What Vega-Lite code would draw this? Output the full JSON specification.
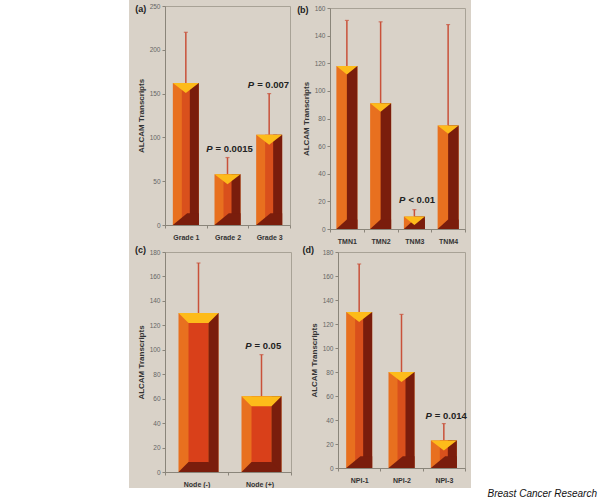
{"$schema":"https://vega.github.io/schema/vega-lite/v6.json","background":"#d9d2c8","padding":0,"spacing":0,"bounds":"full","config":{"view":{"stroke":"#a8a296","strokeWidth":1},"concat":{"spacing":0},"axis":{"labelFont":"Liberation Sans","titleFont":"Liberation Sans","domainColor":"#8a857a","tickColor":"#8a857a","tickSize":3,"grid":false}},"datasets":{"a":[{"label":"Grade 1","value":162,"upper":220},{"label":"Grade 2","value":58,"upper":77,"p":"P","rest":"= 0.0015"},{"label":"Grade 3","value":103,"upper":150,"p":"P","rest":"= 0.007"}],"b":[{"label":"TMN1","value":118,"upper":151},{"label":"TMN2","value":91,"upper":150},{"label":"TNM3","value":9,"upper":14,"p":"P","rest":"< 0.01"},{"label":"TNM4","value":75,"upper":148}],"c":[{"label":"Node (-)","value":130,"upper":171},{"label":"Node (+)","value":62,"upper":96,"p":"P","rest":"= 0.05"}],"d":[{"label":"NPI-1","value":130,"upper":170},{"label":"NPI-2","value":80,"upper":128},{"label":"NPI-3","value":23,"upper":37,"p":"P","rest":"= 0.014"}],"blank":[{"t":""}]},"hconcat":[{"width":129,"height":499,"view":{"fill":"#ffffff","stroke":null},"data":{"name":"blank"},"mark":{"type":"rect","opacity":0},"encoding":{}},{"spacing":0,"vconcat":[{"spacing":3,"hconcat":[{"spacing":0,"vconcat":[{"width":1,"height":2,"view":{"stroke":null},"data":{"name":"blank"},"mark":{"type":"rect","opacity":0},"encoding":{}},{"spacing":4,"vconcat":[{"width":125,"height":219,"data":{"name":"a"},"encoding":{"x":{"field":"label","type":"nominal","sort":null,"title":null,"scale":{"paddingInner":0,"paddingOuter":0},"axis":{"labelAngle":0,"labelFontSize":7,"labelFontWeight":"bold","labelColor":"#333333","tickBand":"extent","labelPadding":5}},"y":{"field":"value","type":"quantitative","scale":{"domain":[0,250],"nice":false},"axis":{"values":[0,50,100,150,200,250],"labelFontSize":6.5,"labelColor":"#666666","title":"ALCAM Transcripts","titleFontSize":8,"titleFontWeight":"bold","titleColor":"#333333","titlePadding":4}}},"layer":[{"mark":{"type":"rule","color":"#c9513a","strokeWidth":1.5},"encoding":{"y":{"field":"value","type":"quantitative"},"y2":{"field":"upper"}}},{"mark":{"type":"tick","orient":"horizontal","color":"#c9513a","size":4,"thickness":1.2},"encoding":{"y":{"field":"upper","type":"quantitative"}}},{"mark":{"type":"bar","size":26,"color":"#e8701f"}},{"mark":{"type":"bar","size":12,"color":"#d9501c","xOffset":2}},{"mark":{"type":"bar","size":9,"color":"#7a1d0c","xOffset":8.5}},{"mark":{"type":"point","filled":true,"opacity":1,"color":"#7a1d0c","size":676,"shape":"M-1,0L1,0L1,-0.9L0.1,-0.9Z"},"encoding":{"y":{"datum":0}}},{"mark":{"type":"point","filled":true,"opacity":1,"color":"#fdbb1a","size":676,"shape":"M-1,0L1,0L0,0.77Z"}},{"transform":[{"filter":"datum.p"}],"mark":{"type":"text","font":"Liberation Sans","fontSize":9.5,"fontWeight":"bold","fontStyle":"italic","align":"right","dx":-15,"dy":-9,"color":"#222222"},"encoding":{"y":{"field":"upper","type":"quantitative"},"text":{"field":"p"}}},{"transform":[{"filter":"datum.p"}],"mark":{"type":"text","font":"Liberation Sans","fontSize":9.5,"fontWeight":"bold","align":"left","dx":-12,"dy":-9,"color":"#222222"},"encoding":{"y":{"field":"upper","type":"quantitative"},"text":{"field":"rest"}}},{"transform":[{"filter":"datum.label=='Grade 1'"}],"mark":{"type":"text","font":"Liberation Sans","fontSize":9,"fontWeight":"bold","dx":-45,"dy":3,"color":"#222222"},"encoding":{"y":{"datum":250},"text":{"value":"(a)"}}}]},{"width":126,"height":220,"data":{"name":"c"},"encoding":{"x":{"field":"label","type":"nominal","sort":null,"title":null,"scale":{"paddingInner":0,"paddingOuter":0},"axis":{"labelAngle":0,"labelFontSize":7,"labelFontWeight":"bold","labelColor":"#333333","tickBand":"extent","labelPadding":5}},"y":{"field":"value","type":"quantitative","scale":{"domain":[0,180],"nice":false},"axis":{"values":[0,20,40,60,80,100,120,140,160,180],"labelFontSize":6.5,"labelColor":"#666666","title":"ALCAM Transcripts","titleFontSize":8,"titleFontWeight":"bold","titleColor":"#333333","titlePadding":4}}},"layer":[{"mark":{"type":"rule","color":"#c9513a","strokeWidth":1.5,"xOffset":2},"encoding":{"y":{"field":"value","type":"quantitative"},"y2":{"field":"upper"}}},{"mark":{"type":"tick","orient":"horizontal","color":"#c9513a","size":4,"thickness":1.2,"xOffset":2},"encoding":{"y":{"field":"upper","type":"quantitative"}}},{"mark":{"type":"bar","size":40,"color":"#e8701f","xOffset":2}},{"mark":{"type":"bar","size":20,"color":"#d9401a","xOffset":2}},{"mark":{"type":"bar","size":10,"color":"#7a1d0c","xOffset":17}},{"mark":{"type":"point","filled":true,"opacity":1,"color":"#7a1d0c","size":1600,"shape":"M-1,0L1,0L0.5,-0.5L-0.5,-0.5Z","xOffset":2},"encoding":{"y":{"datum":0}}},{"mark":{"type":"point","filled":true,"opacity":1,"color":"#fdbb1a","size":1600,"shape":"M-1,0L1,0L0.5,0.5L-0.5,0.5Z","xOffset":2}},{"transform":[{"filter":"datum.p"}],"mark":{"type":"text","font":"Liberation Sans","fontSize":9.5,"fontWeight":"bold","fontStyle":"italic","align":"right","dx":-8,"dy":-9,"color":"#222222"},"encoding":{"y":{"field":"upper","type":"quantitative"},"text":{"field":"p"}}},{"transform":[{"filter":"datum.p"}],"mark":{"type":"text","font":"Liberation Sans","fontSize":9.5,"fontWeight":"bold","align":"left","dx":-5,"dy":-9,"color":"#222222"},"encoding":{"y":{"field":"upper","type":"quantitative"},"text":{"field":"rest"}}},{"transform":[{"filter":"datum.label=='Node (-)'"}],"mark":{"type":"text","font":"Liberation Sans","fontSize":9,"fontWeight":"bold","dx":-56,"dy":-2,"color":"#222222"},"encoding":{"y":{"datum":180},"text":{"value":"(c)"}}}]}]}]},{"spacing":0,"vconcat":[{"width":1,"height":4,"view":{"stroke":null},"data":{"name":"blank"},"mark":{"type":"rect","opacity":0},"encoding":{}},{"spacing":0,"vconcat":[{"spacing":0,"hconcat":[{"width":1,"height":1,"view":{"stroke":null},"data":{"name":"blank"},"mark":{"type":"rect","opacity":0},"encoding":{}},{"width":135,"height":221,"data":{"name":"b"},"encoding":{"x":{"field":"label","type":"nominal","sort":null,"title":null,"scale":{"paddingInner":0,"paddingOuter":0},"axis":{"labelAngle":0,"labelFontSize":7,"labelFontWeight":"bold","labelColor":"#333333","tickBand":"extent","labelPadding":5}},"y":{"field":"value","type":"quantitative","scale":{"domain":[0,160],"nice":false},"axis":{"values":[0,20,40,60,80,100,120,140,160],"labelFontSize":6.5,"labelColor":"#666666","title":"ALCAM Transcripts","titleFontSize":8,"titleFontWeight":"bold","titleColor":"#333333","titlePadding":4}}},"layer":[{"mark":{"type":"rule","color":"#c9513a","strokeWidth":1.5},"encoding":{"y":{"field":"value","type":"quantitative"},"y2":{"field":"upper"}}},{"mark":{"type":"tick","orient":"horizontal","color":"#c9513a","size":4,"thickness":1.2},"encoding":{"y":{"field":"upper","type":"quantitative"}}},{"mark":{"type":"bar","size":21,"color":"#e8701f"}},{"mark":{"type":"bar","size":10.5,"color":"#7a1d0c","xOffset":5.25}},{"mark":{"type":"point","filled":true,"opacity":1,"color":"#7a1d0c","size":441,"shape":"M-1,0L1,0L1,-0.9L0,-0.9Z"},"encoding":{"y":{"datum":0}}},{"mark":{"type":"point","filled":true,"opacity":1,"color":"#fdbb1a","size":441,"shape":"M-1,0L1,0L0,0.8Z"}},{"transform":[{"filter":"datum.p"}],"mark":{"type":"text","font":"Liberation Sans","fontSize":9.5,"fontWeight":"bold","fontStyle":"italic","align":"right","dx":-9,"dy":-10,"color":"#222222"},"encoding":{"y":{"field":"upper","type":"quantitative"},"text":{"field":"p"}}},{"transform":[{"filter":"datum.p"}],"mark":{"type":"text","font":"Liberation Sans","fontSize":9.5,"fontWeight":"bold","align":"left","dx":-6,"dy":-10,"color":"#222222"},"encoding":{"y":{"field":"upper","type":"quantitative"},"text":{"field":"rest"}}},{"transform":[{"filter":"datum.label=='TMN1'"}],"mark":{"type":"text","font":"Liberation Sans","fontSize":9,"fontWeight":"bold","dx":-44,"dy":2,"color":"#222222"},"encoding":{"y":{"datum":160},"text":{"value":"(b)"}}}]}]},{"spacing":0,"hconcat":[{"width":6,"height":1,"view":{"stroke":null},"data":{"name":"blank"},"mark":{"type":"rect","opacity":0},"encoding":{}},{"width":127,"height":216,"data":{"name":"d"},"encoding":{"x":{"field":"label","type":"nominal","sort":null,"title":null,"scale":{"paddingInner":0,"paddingOuter":0},"axis":{"labelAngle":0,"labelFontSize":7,"labelFontWeight":"bold","labelColor":"#333333","tickBand":"extent","labelPadding":5}},"y":{"field":"value","type":"quantitative","scale":{"domain":[0,180],"nice":false},"axis":{"values":[0,20,40,60,80,100,120,140,160,180],"labelFontSize":6.5,"labelColor":"#666666","title":"ALCAM Transcripts","titleFontSize":8,"titleFontWeight":"bold","titleColor":"#333333","titlePadding":4}}},"layer":[{"mark":{"type":"rule","color":"#c9513a","strokeWidth":1.5},"encoding":{"y":{"field":"value","type":"quantitative"},"y2":{"field":"upper"}}},{"mark":{"type":"tick","orient":"horizontal","color":"#c9513a","size":4,"thickness":1.2},"encoding":{"y":{"field":"upper","type":"quantitative"}}},{"mark":{"type":"bar","size":26,"color":"#e8701f"}},{"mark":{"type":"bar","size":12,"color":"#d9501c","xOffset":2}},{"mark":{"type":"bar","size":9,"color":"#7a1d0c","xOffset":8.5}},{"mark":{"type":"point","filled":true,"opacity":1,"color":"#7a1d0c","size":676,"shape":"M-1,0L1,0L1,-0.9L0.1,-0.9Z"},"encoding":{"y":{"datum":0}}},{"mark":{"type":"point","filled":true,"opacity":1,"color":"#fdbb1a","size":676,"shape":"M-1,0L1,0L0,0.77Z"}},{"transform":[{"filter":"datum.p"}],"mark":{"type":"text","font":"Liberation Sans","fontSize":9.5,"fontWeight":"bold","fontStyle":"italic","align":"right","dx":-12,"dy":-8,"color":"#222222"},"encoding":{"y":{"field":"upper","type":"quantitative"},"text":{"field":"p"}}},{"transform":[{"filter":"datum.p"}],"mark":{"type":"text","font":"Liberation Sans","fontSize":9.5,"fontWeight":"bold","align":"left","dx":-9,"dy":-8,"color":"#222222"},"encoding":{"y":{"field":"upper","type":"quantitative"},"text":{"field":"rest"}}},{"transform":[{"filter":"datum.label=='NPI-1'"}],"mark":{"type":"text","font":"Liberation Sans","fontSize":9,"fontWeight":"bold","dx":-51,"dy":-2,"color":"#222222"},"encoding":{"y":{"datum":180},"text":{"value":"(d)"}}}]}]}]}]}]},{"width":300,"height":12,"view":{"stroke":null},"data":{"name":"blank"},"mark":{"type":"rect","color":"#ffffff","x":-36,"x2":306,"y":0,"y2":12},"encoding":{}}]},{"width":129,"height":499,"view":{"fill":"#ffffff","stroke":null},"data":{"values":[{"t":"Breast Cancer Research"}]},"mark":{"type":"text","font":"Liberation Sans","fontSize":10,"fontStyle":"italic","align":"right","color":"#111111"},"encoding":{"text":{"field":"t"},"x":{"value":126},"y":{"value":494}}}]}
